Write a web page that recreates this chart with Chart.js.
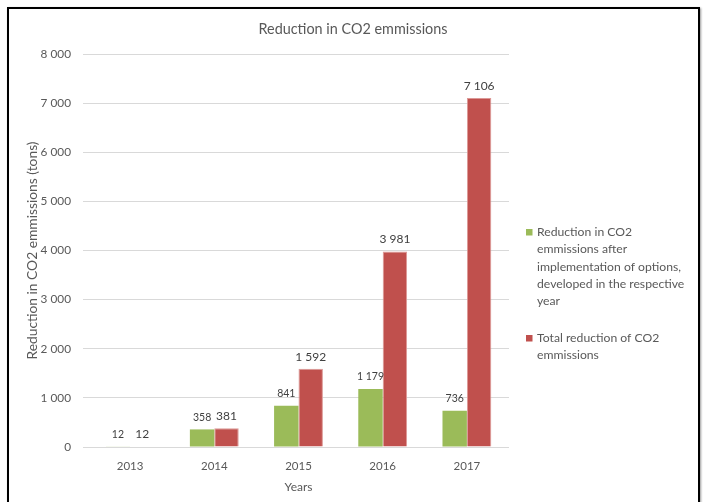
<!DOCTYPE html>
<html>
<head>
<meta charset="utf-8">
<script src="https://cdn.jsdelivr.net/npm/chart.js@4/dist/chart.umd.min.js"></script>
<style>
  html, body { margin: 0; padding: 0; background: #fff; width: 704px; height: 502px; overflow: hidden; }
  #frame { position: absolute; left: 7px; top: 7px; width: 689px; height: 600px; border: 2px solid #000; box-shadow: 1px 1px 2px rgba(0,0,0,0.4); }
  #wrap { position: absolute; left: 0; top: 0; width: 704px; height: 502px; }
</style>
</head>
<body>
<div id="frame"></div>
<div id="wrap"><canvas id="c" width="704" height="502"></canvas></div>
<script>
const chartTitle = "Reduction in CO2 emmissions";
const years = ["2013", "2014", "2015", "2016", "2017"];
const reductionYear = [12, 358, 841, 1179, 736];
const reductionTotal = [12, 381, 1592, 3981, 7106];
const seriesLegendLines = [
  ["Reduction in CO2", "emmissions after", "implementation of options,", "developed in the respective", "year"],
  ["Total reduction of CO2", "emmissions"]
];
const yTitle = "Reduction in CO2 emmissions (tons)";
const xTitle = "Years";
const yMin = 0, yMax = 8000, yStep = 1000;

const FONT = "Lato, 'Open Sans', sans-serif";
const fmt = v => String(v).replace(/\B(?=(\d{3})+(?!\d))/g, " ");

const titlePlugin = {
  id: 'frameTitle',
  afterDraw(chart) {
    const ctx = chart.ctx;
    ctx.save();
    ctx.font = '14.4px ' + FONT;
    ctx.fillStyle = '#595959';
    ctx.textAlign = 'center';
    ctx.textBaseline = 'middle';
    ctx.fillText(chartTitle, 353, 29);
    ctx.restore();
  }
};

const labelPlugin = {
  id: 'barLabels',
  afterDatasetsDraw(chart) {
    const ctx = chart.ctx;
    ctx.save();
    ctx.textAlign = 'center';
    ctx.textBaseline = 'middle';
    ctx.fillStyle = '#404040';
    chart.data.datasets.forEach((ds, di) => {
      const meta = chart.getDatasetMeta(di);
      ctx.font = (di === 0 ? '10.5px ' : '12px ') + FONT;
      meta.data.forEach((bar, i) => {
        ctx.fillText(fmt(ds.data[i]), bar.x, bar.y - 12);
      });
    });
    ctx.restore();
  }
};

const legendPlugin = {
  id: 'sideLegend',
  afterDraw(chart) {
    const ctx = chart.ctx;
    ctx.save();
    ctx.font = '12.2px ' + FONT;
    ctx.textBaseline = 'middle';
    ctx.textAlign = 'left';
    const x0 = 526, tx = 537, lh = 17.3;
    const starts = [232, 338];
    chart.data.datasets.forEach((ds, di) => {
      let y = starts[di];
      ctx.fillStyle = ds.backgroundColor;
      ctx.fillRect(x0, y - 3, 6.5, 6.5);
      ctx.fillStyle = '#595959';
      seriesLegendLines[di].forEach((line, k) => {
        ctx.fillText(line, tx, y + k * lh);
      });
    });
    ctx.restore();
  }
};

new Chart(document.getElementById('c'), {
  type: 'bar',
  data: {
    labels: years,
    datasets: [
      { label: seriesLegendLines[0].join(' '), data: reductionYear, backgroundColor: '#9BBB59', borderWidth: 0 },
      { label: seriesLegendLines[1].join(' '), data: reductionTotal, backgroundColor: '#C0504D', borderColor: '#DC9896', borderWidth: 1 }
    ]
  },
  options: {
    responsive: false,
    animation: false,
    devicePixelRatio: 1,
    layout: { padding: { left: 24, right: 195, top: 54, bottom: 0 } },
    datasets: { bar: { categoryPercentage: 0.58, barPercentage: 1.0 } },
    plugins: {
      legend: { display: false },
      tooltip: { enabled: false },
      title: { display: false }
    },
    scales: {
      x: {
        grid: { display: false, drawTicks: false },
        border: { display: false },
        ticks: { color: '#595959', font: { family: FONT, size: 11.5 }, padding: 12 },
        title: { display: true, text: xTitle, color: '#595959', font: { family: FONT, size: 12 }, padding: { top: 0, bottom: 8 } },
        afterFit(s) { s.height = 55; }
      },
      y: {
        min: yMin, max: yMax,
        grid: { color: '#d9d9d9', lineWidth: 1, drawTicks: true, tickLength: 5, tickColor: '#d9d9d9' },
        border: { display: false },
        ticks: { stepSize: yStep, color: '#595959', font: { family: FONT, size: 11.8 }, padding: 12, callback: v => fmt(v) },
        title: { display: true, text: yTitle, color: '#595959', font: { family: FONT, size: 13.8 }, padding: { top: 0, bottom: 0 } },
        afterFit(s) { s.width = 64; }
      }
    }
  },
  plugins: [titlePlugin, labelPlugin, legendPlugin]
});
</script>
</body>
</html>
